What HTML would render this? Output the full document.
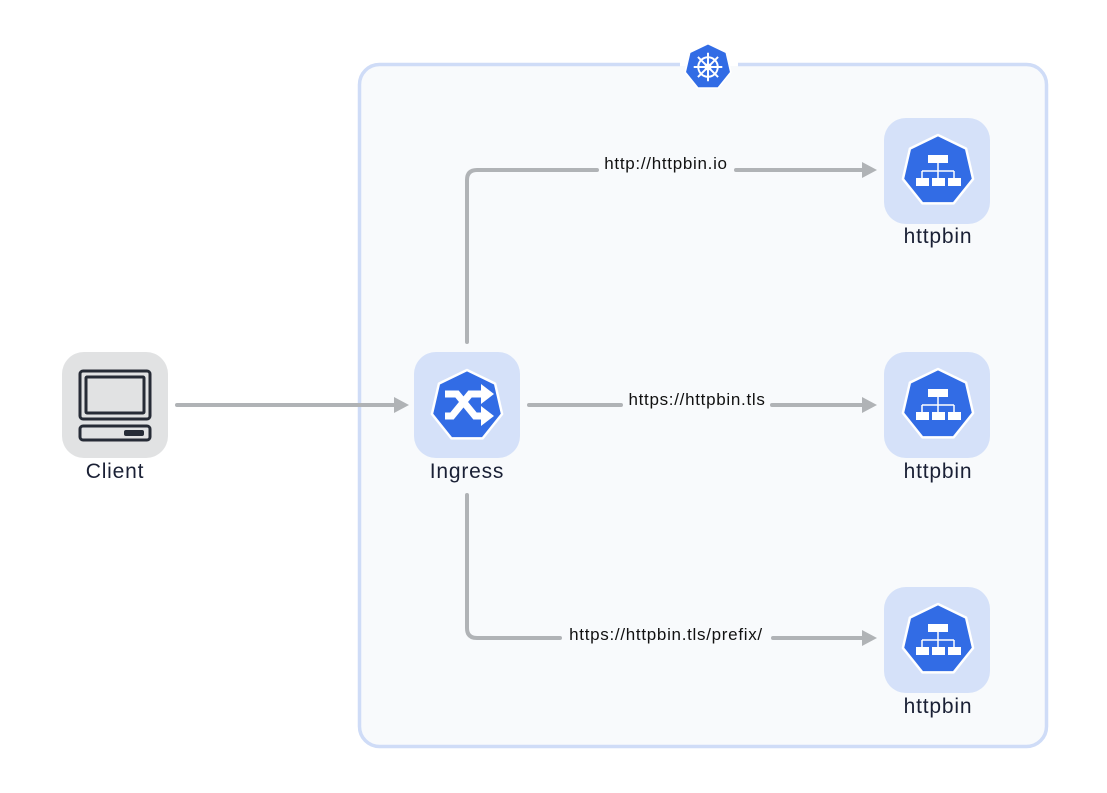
<!DOCTYPE html>
<html><head><meta charset="utf-8"><style>
html,body{margin:0;padding:0;background:#fff;}
svg{display:block}
text{font-family:"Liberation Sans",sans-serif;}
</style></head><body>
<svg width="1107" height="793" viewBox="0 0 1107 793" xmlns="http://www.w3.org/2000/svg">
<defs>
<g id="hept"><polygon points="0,-36 28.1,-22.4 35.1,8 15.6,32.4 -15.6,32.4 -35.1,8 -28.1,-22.4" fill="#326ce5" stroke="#fff" stroke-width="2.5" stroke-linejoin="round"/></g>
<g id="net" fill="#fff" stroke="#fff">
<rect x="-10" y="-16" width="20" height="8" stroke="none"/>
<rect x="-22" y="7" width="13" height="8" stroke="none"/>
<rect x="-6" y="7" width="13" height="8" stroke="none"/>
<rect x="10" y="7" width="13" height="8" stroke="none"/>
<path d="M0,-8V0M-16,0H16M-16,0V7M0,0V7M16,0V7" fill="none" stroke-width="1.5"/>
</g>
</defs>
<rect x="359.5" y="64.5" width="687" height="682" rx="20" fill="#f8fafc" stroke="#cfdcf7" stroke-width="3.5"/>
<rect x="680" y="60" width="58" height="10" fill="#fff"/>
<rect x="680" y="66" width="58" height="8" fill="#f8fafc"/>
<!-- k8s logo -->
<g transform="translate(708,67) scale(0.65)"><use href="#hept"/>
<g stroke="#fff" fill="none" stroke-width="3"><circle r="15"/><circle r="4" fill="#fff"/>
<path d="M0,-22V22M-22,0H22M-15.5,-15.5L15.5,15.5M15.5,-15.5L-15.5,15.5"/></g></g>

<g fill="none" stroke="#b0b3b6" stroke-width="4" stroke-linecap="round">
<path d="M177,405H396"/>
<path d="M529,405H621M772,405H864"/>
<path d="M467,342V180Q467,170 477,170H597M736,170H864"/>
<path d="M467,495V628Q467,638 477,638H560M773,638H864"/>
</g>
<g fill="#b0b3b6">
<polygon points="394,397 409,405 394,413"/>
<polygon points="862,162 877,170 862,178"/>
<polygon points="862,397 877,405 862,413"/>
<polygon points="862,630 877,638 862,646"/>
</g>
<g font-size="17" letter-spacing="0.7" fill="#111" text-anchor="middle">
<text x="666" y="169">http://httpbin.io</text>
<text x="697" y="405">https://httpbin.tls</text>
<text x="666" y="640">https://httpbin.tls/prefix/</text>
</g>

<!-- client -->
<rect x="62" y="352" width="106" height="106" rx="22" fill="#e1e2e3"/>
<g fill="none" stroke="#262b36" stroke-width="3">
<rect x="80" y="371" width="70" height="48" rx="3"/>
<rect x="86" y="377" width="58" height="36" rx="1"/>
<rect x="80" y="426" width="70" height="14" rx="3"/>
</g>
<rect x="124" y="430" width="20" height="6" rx="2" fill="#262b36"/>
<g font-size="21" letter-spacing="0.8" text-anchor="middle" fill="#1a2035">
<text x="115" y="478">Client</text>
</g>

<!-- ingress -->
<rect x="414" y="352" width="106" height="106" rx="22" fill="#d5e1f9"/>
<g transform="translate(467,406)"><use href="#hept"/></g>
<g fill="none" stroke="#fff" stroke-width="7">
<path d="M445,394H457L475,416H483"/>
<path d="M445,416H452L470,394H483"/>
</g>
<g fill="#fff"><polygon points="481,384 494,394 481,404"/><polygon points="481,406 494,416 481,426"/></g>
<g font-size="21" letter-spacing="0.8" text-anchor="middle" fill="#1a2035">
<text x="467" y="478">Ingress</text>
</g>

<!-- httpbins -->
<g fill="#1a2035" font-size="21" letter-spacing="0.8" text-anchor="middle">
<rect x="884" y="118" width="106" height="106" rx="22" fill="#d5e1f9"/>
<g transform="translate(938,171)"><use href="#hept"/><use href="#net"/></g>
<text x="938" y="243">httpbin</text>
<rect x="884" y="352" width="106" height="106" rx="22" fill="#d5e1f9"/>
<g transform="translate(938,405)"><use href="#hept"/><use href="#net"/></g>
<text x="938" y="478">httpbin</text>
<rect x="884" y="587" width="106" height="106" rx="22" fill="#d5e1f9"/>
<g transform="translate(938,640)"><use href="#hept"/><use href="#net"/></g>
<text x="938" y="713">httpbin</text>
</g>
</svg>
</body></html>
